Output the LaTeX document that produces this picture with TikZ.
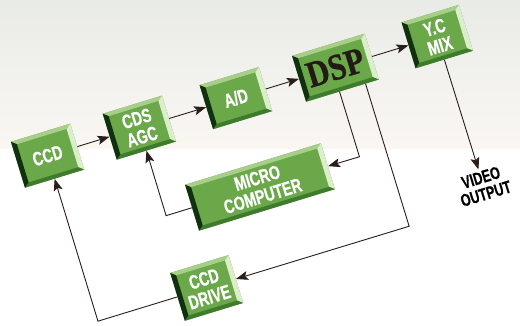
\documentclass[tikz,border=0pt]{standalone}
\usepackage{fontspec}
\usetikzlibrary{arrows.meta,calc}
\newfontfamily\condfont{Liberation Sans}[FakeStretch=0.72,BoldFeatures={FakeBold=0.5}]
\newfontfamily\outfont{Liberation Sans}[FakeStretch=0.72,BoldFeatures={FakeBold=0.5}]
\newfontfamily\dspfont{Liberation Serif}[FakeStretch=0.84,BoldFeatures={FakeBold=0.8}]
\definecolor{face}{HTML}{6AA84A}
\definecolor{bevT}{HTML}{A8CF8A}
\definecolor{bevR}{HTML}{DCEDCB}
\definecolor{bevB}{HTML}{3E7B2C}
\definecolor{bevL}{HTML}{10300F}
\definecolor{lineclr}{HTML}{2A1E1B}
\definecolor{dsptext}{HTML}{231A15}
\definecolor{bgtop}{HTML}{E9EBE7}
\definecolor{bgbot}{HTML}{FAF7F3}
\newcommand{\bevbox}[6]{%
  \pgfmathsetmacro{\bxa}{#2-#4/2}\pgfmathsetmacro{\bxb}{#2+#4/2}%
  \pgfmathsetmacro{\bya}{#3-#5/2}\pgfmathsetmacro{\byb}{#3+#5/2}%
  \fill[face] (\bxa,\bya) rectangle (\bxb,\byb);
  \fill[bevT] (\bxa,\byb) -- (\bxb,\byb) -- (\bxb-5,\byb-4) -- (\bxa+5,\byb-4) -- cycle;
  \fill[bevR] (\bxb,\byb) -- (\bxb,\bya) -- (\bxb-5,\bya+4) -- (\bxb-5,\byb-4) -- cycle;
  \fill[bevB] (\bxb,\bya) -- (\bxa,\bya) -- (\bxa+5,\bya+4) -- (\bxb-5,\bya+4) -- cycle;
  \fill[bevL] (\bxa,\bya) -- (\bxa,\byb) -- (\bxa+5,\byb-4) -- (\bxa+5,\bya+4) -- cycle;
  \node[boxtxt, minimum width=#4, minimum height=#5] (#1) at (#2,#3) {#6};
}
\begin{document}
\begin{tikzpicture}[x=1pt,y=1pt,
  ln/.style={draw=lineclr, line width=0.9pt},
  arr/.style={ln, -{Stealth[length=12pt,width=9pt,inset=2.5pt]}},
  boxtxt/.style={rectangle, inner sep=0pt, transform shape, align=center,
    text=white, font=\condfont\bfseries\fontsize{19.5}{19}\selectfont},
  outtxt/.style={rectangle, inner sep=2pt, transform shape, align=center,
    text=black, font=\outfont\bfseries\fontsize{17.5}{17}\selectfont}]
\useasboundingbox (0,0) rectangle (520,325);
\fill[white] (0,0) rectangle (520,325);
\shade[top color=bgtop, bottom color=bgbot] (0,177) rectangle (520,325);
\begin{scope}[rotate=17]
  \bevbox{ccd}{95}{148}{62}{48}{CCD}
  \bevbox{cds}{191}{148}{62}{48}{CDS\\AGC}
  \bevbox{ad}{292}{148}{62}{46}{A/D}
  \bevbox{dsp}{396}{148}{76}{48}{{\dspfont\bfseries\color{dsptext}\fontsize{37}{37}\selectfont DSP}}
  \bevbox{yc}{502.5}{148}{60}{48}{Y.C\\MIX}
  \bevbox{micro}{289}{56}{142}{48}{MICRO\\COMPUTER}
  \bevbox{drive}{208.5}{-25}{61}{50}{CCD\\DRIVE}
  \node[outtxt] (vid) at (503,-8) {VIDEO\\OUTPUT};
  \draw[arr] (ccd.east) -- (cds.west);
  \draw[arr] (cds.east) -- (ad.west);
  \draw[arr] (ad.east) -- (dsp.west);
  \draw[arr] (dsp.east) -- (yc.west);
  \draw[arr] (yc.south) -- (vid.north);
  \draw[arr] ($(dsp.south west)!0.46!(dsp.south east)$) -- ++(0,-68) -- (micro.east);
  \draw[arr] ($(dsp.south west)!0.816!(dsp.south east)$) -- ++(0,-149) -- (drive.east);
  \draw[arr] (micro.west) -- ++(-27,0) -- (cds.south);
  \draw[arr] (drive.west) -- ++(-83,0) -- (ccd.south);
\end{scope}
\end{tikzpicture}
\end{document}
